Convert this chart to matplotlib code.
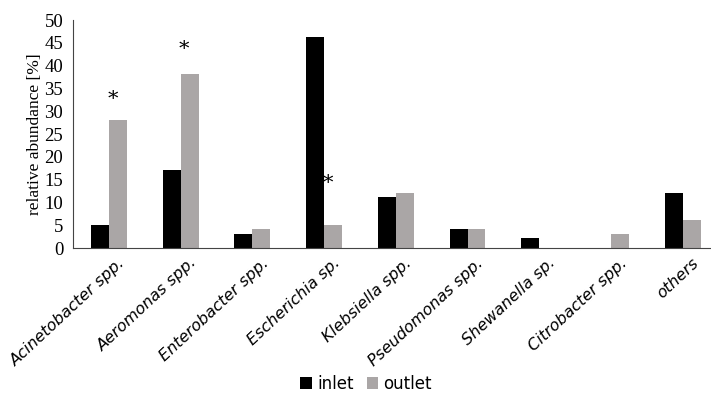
import numpy as np
import matplotlib
matplotlib.use("Agg")
import matplotlib.pyplot as plt

# data
genera = ["Acinetobacter spp.", "Aeromonas spp.", "Enterobacter spp.", "Escherichia sp.",
          "Klebsiella spp.", "Pseudomonas spp.", "Shewanella sp.", "Citrobacter spp.", "others"]
inlet = [5.1, 17.1, 3.1, 46.2, 11.1, 4.1, 2.2, 0.0, 12.1]
outlet = [28.2, 38.2, 4.1, 5.1, 12.1, 4.1, 0.0, 3.1, 6.2]

# significance markers (category index, y position)
star_idx = [0, 1, 3]
star_y = [32.5, 43.5, 14.2]

fig = plt.figure(figsize=(7.11, 3.95), dpi=100)
ax = fig.add_axes([0.1027, 0.372, 0.908, 0.577])

x = np.arange(len(genera))
w = 0.25
ax.bar(x - w / 2, inlet, w, color="black", label="inlet")
ax.bar(x + w / 2, outlet, w, color="#aaa6a6", label="outlet")

for i, y in zip(star_idx, star_y):
    ax.text(i + 0.05, y, "*", ha="center", va="center", fontsize=15, family="DejaVu Serif")

ax.set_xlim(-0.5, len(genera) - 0.5)
ax.set_ylim(0, 50)
ax.set_yticks(np.arange(0, 51, 5))
ax.set_yticklabels([str(v) for v in range(0, 51, 5)], family="Liberation Serif", fontsize=13.5)
ax.tick_params(axis="y", length=0, pad=7)
ax.tick_params(axis="x", length=0, pad=5)
ax.set_xticks(x + 0.12)
ax.set_xticklabels(genera, rotation=43, ha="right", rotation_mode="anchor",
                   style="italic", family="DejaVu Sans", fontsize=11.5)
ax.set_ylabel("relative abundance [%]", family="Liberation Serif", fontsize=12.5, labelpad=1)

for s in ["top", "right"]:
    ax.spines[s].set_visible(False)
ax.spines["left"].set_color("#444444")
ax.spines["bottom"].set_color("#444444")

fig.legend(loc="center", bbox_to_anchor=(0.515, 0.028), ncol=2, frameon=False,
           handlelength=0.7, handleheight=0.7, handletextpad=0.3, columnspacing=0.8,
           prop={"family": "DejaVu Sans", "size": 12})

fig.savefig("out.png", dpi=100)
